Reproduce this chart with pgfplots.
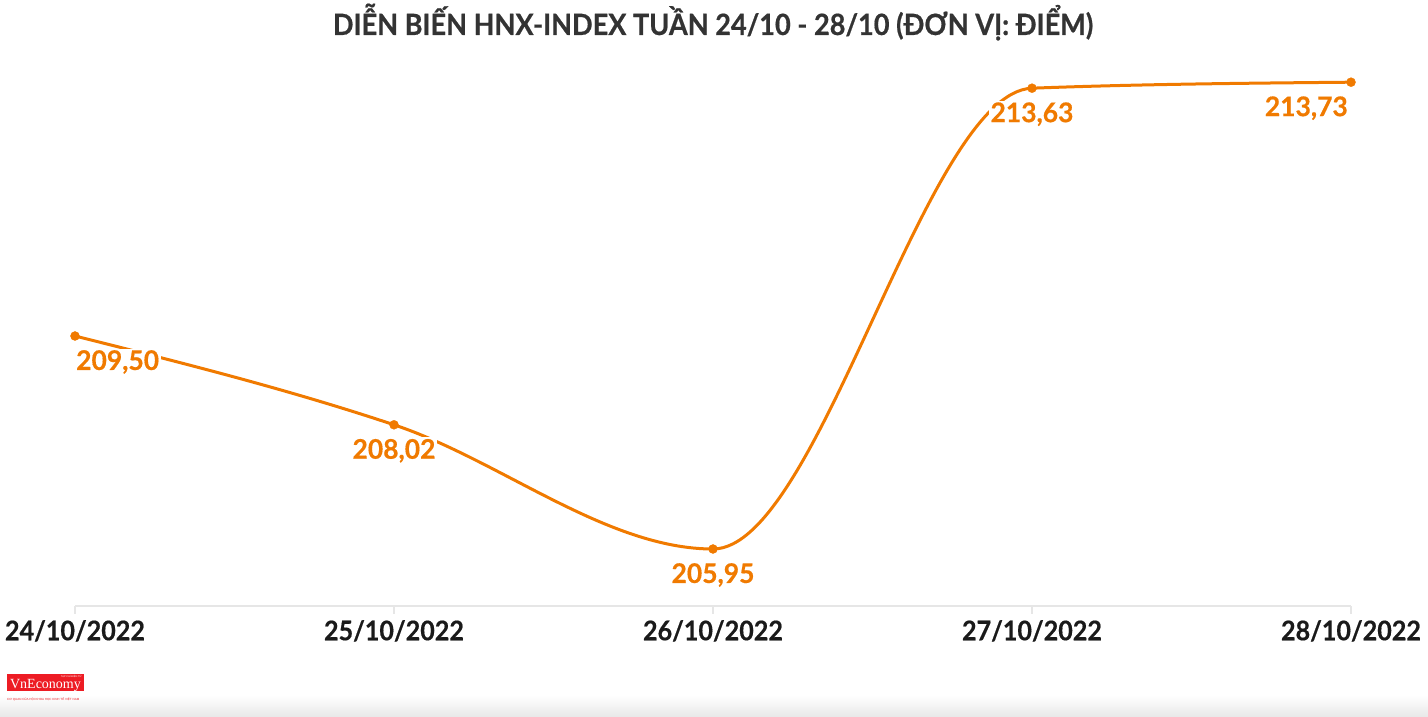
\documentclass[border=0pt]{standalone}
\usepackage{pgfplots}
\pgfplotsset{compat=1.18}
\usepackage{pgfplotstable}
\usepackage{fontspec}
\setmainfont{Lato}
\newfontfamily\titlefont{Lato}[BoldFeatures={FakeBold=0.6, FakeStretch=0.925}]
\newfontfamily\tickfont{Lato}[BoldFeatures={FakeBold=0.5, FakeStretch=0.93}]
\newfontfamily\valfont{Lato}[BoldFeatures={FakeBold=0.5, FakeStretch=0.98}]
\newfontfamily\logoserif{Liberation Serif}
\newfontfamily\logosans{Liberation Sans}
\definecolor{hnx}{RGB}{240,122,0}
\definecolor{axgray}{RGB}{230,230,230}
\definecolor{titlegray}{RGB}{51,51,51}
\definecolor{ticktext}{RGB}{26,26,26}
\definecolor{logored}{RGB}{237,28,36}

\pgfplotstableread{
x y
0 209.50
1 208.02
2 205.95
3 213.63
4 213.73
}\hnxdata

% monotone cubic (Fritsch-Carlson / monotoneX) control points computed from the table
\pgfplotstablegetelem{0}{y}\of\hnxdata \let\yA\pgfplotsretval
\pgfplotstablegetelem{1}{y}\of\hnxdata \let\yB\pgfplotsretval
\pgfplotstablegetelem{2}{y}\of\hnxdata \let\yC\pgfplotsretval
\pgfplotstablegetelem{3}{y}\of\hnxdata \let\yD\pgfplotsretval
\pgfplotstablegetelem{4}{y}\of\hnxdata \let\yE\pgfplotsretval
\pgfmathsetmacro\sA{\yB-\yA}
\pgfmathsetmacro\sB{\yC-\yB}
\pgfmathsetmacro\sC{\yD-\yC}
\pgfmathsetmacro\sD{\yE-\yD}
\newcommand\mono[3]{\pgfmathsetmacro#1{ifthenelse((#2)*(#3)>0,2*min(abs(#2),abs(#3),0.25*abs((#2)+(#3)))*ifthenelse((#2)>0,1,-1),0)}}
\mono\mB\sA\sB
\mono\mC\sB\sC
\mono\mD\sC\sD
\pgfmathsetmacro\mA{(3*(\sA)-(\mB))/2}
\pgfmathsetmacro\mE{(3*(\sD)-(\mD))/2}
\pgfmathsetmacro\cAa{\yA+(\mA)/3}
\pgfmathsetmacro\cAb{\yB-(\mB)/3}
\pgfmathsetmacro\cBa{\yB+(\mB)/3}
\pgfmathsetmacro\cBb{\yC-(\mC)/3}
\pgfmathsetmacro\cCa{\yC+(\mC)/3}
\pgfmathsetmacro\cCb{\yD-(\mD)/3}
\pgfmathsetmacro\cDa{\yD+(\mD)/3}
\pgfmathsetmacro\cDb{\yE-(\mE)/3}

\begin{document}
\begin{tikzpicture}
% bottom shadow
\shade[bottom color=black!9, top color=white] (0,0) rectangle (1428bp,22bp);
% title
\node[anchor=base, text=titlegray, font=\titlefont\fontsize{29.3bp}{32bp}\selectfont\bfseries] at (713bp,682bp)
  {DIỄN BIẾN HNX-INDEX TUẦN 24/10 - 28/10 (ĐƠN VỊ: ĐIỂM)};
\begin{axis}[
  at={(75bp,111bp)}, anchor=south west,
  scale only axis, x=319bp, y=60bp,
  xmin=0, xmax=4, ymin=205, ymax=214,
  clip=false,
  axis x line=bottom, axis y line=none,
  x axis line style={-, draw=axgray, line width=2bp},
  xtick={0,1,2,3,4},
  xticklabels={24/10/2022,25/10/2022,26/10/2022,27/10/2022,28/10/2022},
  ytick=\empty,
  tick align=outside,
  major tick length=8bp,
  major tick style={draw=axgray, line width=2bp},
  xticklabel style={anchor=north, inner sep=0pt, yshift=-6bp, text=ticktext,
    font=\tickfont\fontsize{27bp}{30bp}\selectfont\bfseries},
  /pgf/number format/assume math mode=true,
  /pgf/number format/.cd, fixed, fixed zerofill, precision=2, use comma,
  /pgfplots/.cd,
  label node/.style={draw=none, nodes near coords, point meta=y,
    nodes near coords style={text=hnx, fill=white, inner sep=1.5bp,
      font=\valfont\fontsize{27bp}{30bp}\selectfont\bfseries}},
]
\draw[hnx, line width=3bp, line cap=round]
  (axis cs:0,\yA) .. controls (axis cs:0.33333,\cAa) and (axis cs:0.66667,\cAb) ..
  (axis cs:1,\yB) .. controls (axis cs:1.33333,\cBa) and (axis cs:1.66667,\cBb) ..
  (axis cs:2,\yC) .. controls (axis cs:2.33333,\cCa) and (axis cs:2.66667,\cCb) ..
  (axis cs:3,\yD) .. controls (axis cs:3.33333,\cDa) and (axis cs:3.66667,\cDb) ..
  (axis cs:4,\yE);
\addplot[label node, restrict x to domain=-0.5:0.5,
  nodes near coords style={anchor=north west, xshift=-0.5bp, yshift=-12.5bp}] table[x=x,y=y] {\hnxdata};
\addplot[label node, restrict x to domain=0.5:3.5,
  nodes near coords style={anchor=north, yshift=-12.5bp}] table[x=x,y=y] {\hnxdata};
\addplot[label node, restrict x to domain=3.5:4.5,
  nodes near coords style={anchor=north east, xshift=-1.5bp, yshift=-12.5bp}] table[x=x,y=y] {\hnxdata};
\addplot[only marks, mark=*, mark size=4.5bp, color=hnx] table[x=x,y=y] {\hnxdata};
\end{axis}
% logo
\fill[logored] (7bp,26bp) rectangle (84bp,43bp);
\node[anchor=base, text=white, inner sep=0pt, font=\logoserif\fontsize{14bp}{14bp}\selectfont] at (45.5bp,29bp) {VnEconomy};
\node[anchor=north east, text=white, inner sep=0pt, font=\logosans\fontsize{2.5bp}{3bp}\selectfont] at (82bp,42bp) {TẠP CHÍ ĐIỆN TỬ};
\node[anchor=base west, text=logored, inner sep=0pt, font=\logosans\fontsize{3bp}{3bp}\selectfont] at (7bp,17bp) {CƠ QUAN CỦA HỘI KHOA HỌC KINH TẾ VIỆT NAM};
\pgfresetboundingbox
\useasboundingbox (0,0) rectangle (1428bp,717bp);
\end{tikzpicture}
\end{document}
